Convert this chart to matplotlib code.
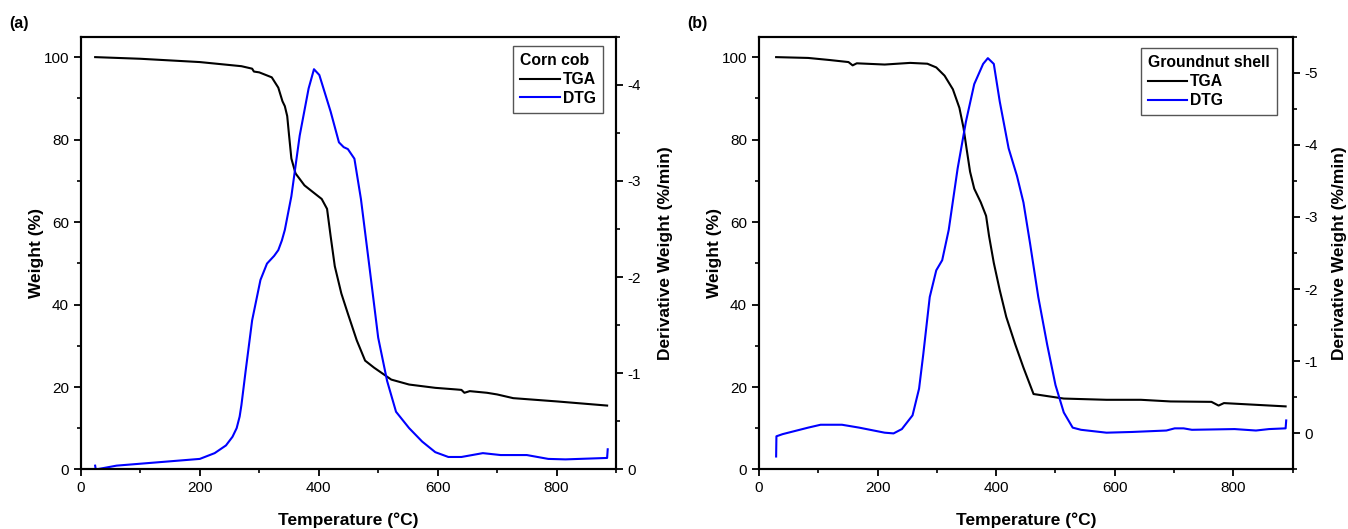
import matplotlib
matplotlib.use("Agg")
import matplotlib.pyplot as plt
from matplotlib.ticker import MultipleLocator, FuncFormatter
from matplotlib.lines import Line2D

plt.rcParams['font.family'] = ['Liberation Sans', 'DejaVu Sans']

# ---------------- Panel (a): Corn cob ----------------
corn_tga_T = [24, 100, 200, 270, 288, 291, 300, 321, 332, 339, 343, 347, 350, 354, 361,
              376, 390, 405, 414, 420, 427, 438, 449, 464, 478, 493, 522, 552, 596,
              632, 640, 645, 654, 683, 700, 727, 801, 885]
corn_tga_W = [100, 99.6, 98.8, 97.8, 97.2, 96.5, 96.3, 95.1, 92.6, 89.3, 88.1, 85.7, 81.2,
              75.4, 71.8, 68.9, 67.3, 65.6, 63.2, 56.6, 49.3, 42.7, 37.8, 31.3, 26.4,
              24.7, 21.8, 20.6, 19.8, 19.4, 19.3, 18.6, 19.0, 18.6, 18.2, 17.3, 16.5, 15.5]

corn_dtg_T = [24, 25, 60, 120, 200, 225, 244, 255, 262, 267, 270, 277, 288, 302, 313, 325,
              332, 338, 343, 354, 368, 383, 392, 401, 420, 434, 442, 449, 460, 471, 486,
              500, 515, 530, 552, 574, 596, 618, 640, 676, 706, 750, 786, 815, 885, 886]
corn_dtg_D = [-0.04, -0.0, -0.04, -0.07, -0.11, -0.17, -0.25, -0.34, -0.43, -0.55, -0.67,
              -1.02, -1.55, -1.97, -2.14, -2.22, -2.28, -2.38, -2.49, -2.84, -3.47, -3.96,
              -4.16, -4.10, -3.72, -3.40, -3.35, -3.33, -3.23, -2.81, -2.07, -1.37, -0.92,
              -0.60, -0.43, -0.29, -0.18, -0.13, -0.13, -0.17, -0.15, -0.15, -0.11,
              -0.105, -0.12, -0.21]

# ---------------- Panel (b): Groundnut shell ----------------
gs_tga_T = [29, 83, 119, 151, 158, 165, 212, 255, 284, 299, 313, 327, 338, 345, 350, 356,
            363, 374, 383, 388, 396, 406, 417, 432, 446, 463, 486, 514, 586, 644, 694,
            763, 775, 784, 888]
gs_tga_W = [100, 99.8, 99.3, 98.8, 98.0, 98.5, 98.2, 98.6, 98.4, 97.5, 95.5, 92.2, 87.7,
            82.8, 77.9, 72.2, 68.1, 64.8, 61.5, 56.6, 50.1, 43.5, 37.0, 30.4, 24.7, 18.3,
            17.8, 17.2, 16.9, 16.9, 16.5, 16.4, 15.5, 16.1, 15.3]

gs_dtg_T = [29, 29.5, 40, 83, 104, 140, 169, 212, 227, 241, 259, 270, 277, 288, 299, 309,
            320, 335, 349, 363, 378, 386, 396, 406, 421, 435, 446, 457, 471, 486, 500,
            514, 529, 543, 586, 629, 658, 687, 701, 716, 730, 802, 838, 860, 888, 889]
gs_dtg_D = [0.32, 0.04, 0.01, -0.08, -0.12, -0.12, -0.08, -0.01, 0.0, -0.06, -0.25, -0.62,
            -1.09, -1.89, -2.26, -2.40, -2.82, -3.67, -4.32, -4.84, -5.12, -5.20, -5.12,
            -4.60, -3.95, -3.57, -3.20, -2.64, -1.89, -1.23, -0.67, -0.29, -0.08, -0.05,
            -0.01, -0.02, -0.03, -0.04, -0.07, -0.07, -0.05, -0.06, -0.04, -0.06, -0.07,
            -0.18]

panels = [
    dict(tag="(a)", title="Corn cob", tT=corn_tga_T, tW=corn_tga_W, dT=corn_dtg_T,
         dD=corn_dtg_D, rlim=(0, -4.5), anchor=(0.9757, 0.978), rpad=12),
    dict(tag="(b)", title="Groundnut shell", tT=gs_tga_T, tW=gs_tga_W, dT=gs_dtg_T,
         dD=gs_dtg_D, rlim=(0.5, -5.5), anchor=(0.970, 0.973), rpad=10),
]

fig = plt.figure(figsize=(13.48, 5.29), dpi=100)
rects = [[0.060, 0.1125, 0.397, 0.8185], [0.563, 0.1125, 0.396, 0.8185]]

for p, rect in zip(panels, rects):
    ax = fig.add_axes(rect)
    ax2 = ax.twinx()
    ax.plot(p["tT"], p["tW"], color="black", lw=1.5)
    ax2.plot(p["dT"], p["dD"], color="#0000ff", lw=1.5)
    ax.set_xlim(0, 900)
    ax.set_ylim(0, 105)
    ax2.set_ylim(*p["rlim"])
    ax.xaxis.set_major_locator(MultipleLocator(200))
    ax.xaxis.set_minor_locator(MultipleLocator(100))
    ax.yaxis.set_major_locator(MultipleLocator(20))
    ax.yaxis.set_minor_locator(MultipleLocator(10))
    ax2.yaxis.set_major_locator(MultipleLocator(1))
    ax2.yaxis.set_minor_locator(MultipleLocator(0.5))
    ax2.yaxis.set_major_formatter(FuncFormatter(
        lambda v, pos: "%d" % round(v) if abs(v) > 1e-9 else "0"))
    for a in (ax, ax2):
        for s in a.spines.values():
            s.set_linewidth(1.5)
        a.tick_params(which="major", direction="out", length=5, width=1.3,
                      labelsize=11)
        a.tick_params(which="minor", direction="out", length=3, width=1.2)
    ax.set_xlabel("Temperature (\u00b0C)", fontsize=12.5, fontweight="bold", labelpad=12.5)
    ax.set_ylabel("Weight (%)", fontsize=12.5, fontweight="bold", labelpad=0)
    ax2.set_ylabel("Derivative Weight (%/min)", fontsize=12.5, fontweight="bold",
                   labelpad=p["rpad"])
    handles = [Line2D([], [], color="black", lw=1.5), Line2D([], [], color="#0000ff", lw=1.5)]
    leg = ax2.legend(handles, ["TGA", "DTG"], title=p["title"], loc="upper right",
                     bbox_to_anchor=p["anchor"], borderaxespad=0,
                     fancybox=False, framealpha=1, edgecolor="#555555",
                     prop=dict(weight="bold", size=11.3), handlelength=2.5,
                     handletextpad=0.2, labelspacing=0.25, borderpad=0.45)
    leg.get_title().set_fontweight("bold")
    leg.get_title().set_fontsize(11.3)
    leg.set_alignment("left")
    leg.get_frame().set_linewidth(1.0)
    fig.text(rect[0] - 0.053, 0.955, p["tag"], fontsize=11.5, fontweight="bold",
             ha="left", va="center")

fig.savefig("out.png", dpi=100)
